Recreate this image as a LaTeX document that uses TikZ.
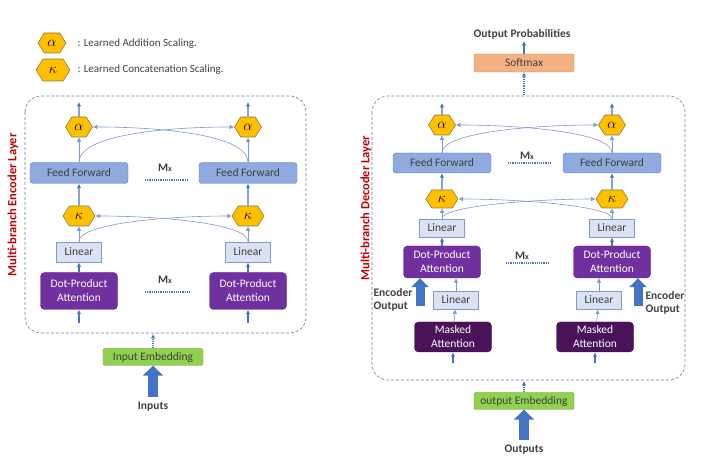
\documentclass[tikz,border=0pt]{standalone}
\usepackage{fontspec}
\setmainfont{Carlito}
\usetikzlibrary{shapes.symbols,arrows.meta}
\definecolor{arrblue}{HTML}{4472C4}
\definecolor{thinblue}{HTML}{7F98D0}
\definecolor{boxline}{HTML}{6A7BAE}
\definecolor{ffFill}{HTML}{8FAADC}
\definecolor{ffDraw}{HTML}{5F80BE}
\definecolor{linFill}{HTML}{DAE3F3}
\definecolor{linDraw}{HTML}{7F9ACB}
\definecolor{dpaFill}{HTML}{7030A0}
\definecolor{dpaDraw}{HTML}{5A2585}
\definecolor{maskFill}{HTML}{4A1259}
\definecolor{hexFill}{HTML}{FFC000}
\definecolor{hexDraw}{HTML}{8C7A3A}
\definecolor{smFill}{HTML}{F4B183}
\definecolor{smDraw}{HTML}{C9845A}
\definecolor{embFill}{HTML}{92D050}
\definecolor{embDraw}{HTML}{6AA33A}
\definecolor{labred}{HTML}{C00000}
\definecolor{txtgray}{HTML}{404040}

\begin{document}
\begin{tikzpicture}[x=1pt,y=-1pt,
  every node/.style={font=\fontsize{11.5}{13}\selectfont},
  arr/.style={draw=arrblue,line width=1.1pt,-{Latex[length=4.5pt,width=4.5pt]}},
  cross/.style={draw=thinblue,line width=0.6pt,-{Latex[length=4.5pt,width=4.5pt]}},
  bigarr/.style={draw=arrblue,line width=10pt,-{Triangle[length=10pt,width=20pt]}},
  mxdots/.style={draw=arrblue,line width=1.2pt,densely dotted},
  layerbox/.style={draw=boxline,densely dashed,line width=0.6pt,rounded corners=16pt},
  hexa/.style={shape=signal,signal to=west and east,signal pointer angle=115,
    fill=hexFill,draw=hexDraw,line width=0.6pt,minimum width=27pt,minimum height=20pt,
    inner sep=0pt,font=\fontsize{14}{15}\selectfont},
  hexk/.style={hexa,minimum width=32pt},
  ffbox/.style={fill=ffFill,draw=ffDraw,rounded corners=3pt,minimum width=98pt,
    minimum height=21pt,inner sep=1pt,text=txtgray},
  linbox/.style={fill=linFill,draw=linDraw,line width=0.8pt,minimum width=45pt,
    minimum height=20pt,inner sep=1pt,text=txtgray},
  dpabox/.style={fill=dpaFill,draw=dpaDraw,rounded corners=4pt,minimum width=77pt,
    minimum height=37pt,inner sep=1pt,align=center,text=white,
    font=\fontsize{11.5}{14}\selectfont},
  maskbox/.style={dpabox,fill=maskFill,draw=maskFill!80!black,minimum height=30pt},
  smbox/.style={fill=smFill,draw=smDraw,rounded corners=2pt,minimum width=100pt,
    minimum height=18pt,inner sep=1pt,text=txtgray},
  embbox/.style={smbox,fill=embFill,draw=embDraw,minimum height=17pt},
  mx/.style={font=\fontsize{11.5}{13}\selectfont\bfseries,inner sep=1pt,text=txtgray},
  bold/.style={font=\fontsize{11.5}{13}\selectfont\bfseries,text=txtgray},
  redlab/.style={font=\fontsize{12.5}{14}\selectfont\bfseries,text=labred,rotate=90},
  legtxt/.style={font=\fontsize{11}{12}\selectfont,text=txtgray,anchor=west}]
  \pgfmathsetmacro{\eL}{79}
  \pgfmathsetmacro{\eR}{248}
  \pgfmathsetmacro{\dL}{442}
  \pgfmathsetmacro{\dR}{612}
  \useasboundingbox (0,0) rectangle (716,473);

  % legend
  \node[hexa,minimum width=28pt] (lgA) at (52,43) {$\alpha$};
  \node[hexk,minimum width=34pt,minimum height=22pt] (lgK) at (53,70) {$\kappa$};
  \node[legtxt] (lgAt) at (74,44) {: Learned Addition Scaling.};
  \node[legtxt] (lgKt) at (74,70) {: Learned Concatenation Scaling.};

  % encoder
  \draw[layerbox] (25,96) rectangle (306,333);
  \node[redlab] (encLab) at (13,205) {Multi-branch Encoder Layer};

  \node[hexa] (eAlL) at (\eL,127) {$\alpha$};
  \node[hexa] (eAlR) at (\eR,127) {$\alpha$};
  \node[ffbox] (eFFL) at (\eL,173) {Feed Forward};
  \node[ffbox] (eFFR) at (\eR,173) {Feed Forward};
  \node[hexk] (eKaL) at (\eL,216) {$\kappa$};
  \node[hexk] (eKaR) at (\eR,216) {$\kappa$};
  \node[linbox] (eLinL) at (\eL,252) {Linear};
  \node[linbox] (eLinR) at (\eR,252) {Linear};
  \node[dpabox] (eDPL) at (\eL,291) {Dot-Product\\Attention};
  \node[dpabox] (eDPR) at (\eR,291) {Dot-Product\\Attention};
  \coordinate (eTopL) at (\eL,102);
  \coordinate (eTopR) at (\eR,102);
  \coordinate (eInL) at (\eL,323);
  \coordinate (eInR) at (\eR,323);

  \draw[arr] (eInL) -- (eDPL);
  \draw[arr] (eInR) -- (eDPR);
  \draw[arr] (eDPL) -- (eLinL);
  \draw[arr] (eDPR) -- (eLinR);
  \draw[cross] (eLinL) -- (eKaL);
  \draw[cross] (eLinR) -- (eKaR);
  \draw[arr] (eKaL) -- (eFFL);
  \draw[arr] (eKaR) -- (eFFR);
  \draw[cross] (eFFL) -- (eAlL);
  \draw[cross] (eFFR) -- (eAlR);
  \draw[arr] (eAlL) -- (eTopL);
  \draw[arr] (eAlR) -- (eTopR);
  \draw[cross] (eFFL.north) .. controls (\eL,134) and (170,127) .. (eAlR.west);
  \draw[cross] (eFFR.north) .. controls (\eR,134) and (157,127) .. (eAlL.east);
  \draw[cross] (eLinL.north) .. controls (\eL,223) and (170,216) .. (eKaR.west);
  \draw[cross] (eLinR.north) .. controls (\eR,223) and (157,216) .. (eKaL.east);

  \node[mx] (eMxA) at (165,168) {M\raisebox{-0.5pt}{\fontsize{8}{9}\selectfont x}};
  \draw[mxdots] (145,180) -- (187,180);
  \node[mx] (eMxB) at (165,280) {M\raisebox{-0.5pt}{\fontsize{8}{9}\selectfont x}};
  \draw[mxdots] (145,292) -- (190,292);

  \node[embbox] (eEmb) at (153,357) {Input Embedding};
  \coordinate (eBot) at (153,334);
  \coordinate (eInp) at (153,397);
  \draw[arr,densely dotted] (eEmb) -- (eBot);
  \draw[bigarr] (eInp) -- (eEmb.south);
  \node[bold] (eInpT) at (153,407) {Inputs};

  % decoder
  \draw[layerbox] (372,96) rectangle (685,380);
  \node[redlab] (decLab) at (366,208) {Multi-branch Decoder Layer};

  \node[bold] (dOut) at (522,34) {Output Probabilities};
  \node[smbox] (dSm) at (524,63) {Softmax};
  \coordinate (dSmTop) at (524,41);
  \coordinate (dTopC) at (524,95);
  \draw[arr] (dSm) -- (dSmTop);
  \draw[arr,densely dotted] (dTopC) -- (dSm);

  \node[hexa] (dAlL) at (\dL,125) {$\alpha$};
  \node[hexa] (dAlR) at (\dR,125) {$\alpha$};
  \node[ffbox,minimum height=20pt] (dFFL) at (\dL,163) {Feed Forward};
  \node[ffbox,minimum height=20pt] (dFFR) at (\dR,163) {Feed Forward};
  \node[hexk,minimum height=18pt] (dKaL) at (\dL,199) {$\kappa$};
  \node[hexk,minimum height=18pt] (dKaR) at (\dR,199) {$\kappa$};
  \node[linbox,minimum height=18pt] (dLinL) at (\dL,228) {Linear};
  \node[linbox,minimum height=18pt] (dLinR) at (\dR,228) {Linear};
  \node[dpabox,minimum height=32pt] (dDPL) at (\dL,262) {Dot-Product\\Attention};
  \node[dpabox,minimum height=32pt] (dDPR) at (\dR,262) {Dot-Product\\Attention};
  \node[linbox,minimum height=18pt] (dLbL) at (456,300) {Linear};
  \node[linbox,minimum height=18pt] (dLbR) at (599,300) {Linear};
  \node[maskbox] (dMaL) at (453,337) {Masked\\Attention};
  \node[maskbox] (dMaR) at (595,337) {Masked\\Attention};
  \coordinate (dTopL) at (\dL,103);
  \coordinate (dTopR) at (\dR,103);
  \coordinate (dInL) at (453,363);
  \coordinate (dInR) at (595,363);

  \draw[arr] (dInL) -- (dMaL);
  \draw[arr] (dInR) -- (dMaR);
  \draw[cross] (dMaL) -- (dLbL);
  \draw[cross] (dMaR) -- (dLbR);
  \draw[cross] (dLbL) -- (dLbL |- dDPL.south);
  \draw[cross] (dLbR) -- (dLbR |- dDPR.south);
  \draw[arr] (dDPL) -- (dLinL);
  \draw[arr] (dDPR) -- (dLinR);
  \draw[cross] (dLinL) -- (dKaL);
  \draw[cross] (dLinR) -- (dKaR);
  \draw[arr] (dKaL) -- (dFFL);
  \draw[arr] (dKaR) -- (dFFR);
  \draw[cross] (dFFL) -- (dAlL);
  \draw[cross] (dFFR) -- (dAlR);
  \draw[arr] (dAlL) -- (dTopL);
  \draw[arr] (dAlR) -- (dTopR);
  \draw[cross] (dFFL.north) .. controls (\dL,132) and (535,125) .. (dAlR.west);
  \draw[cross] (dFFR.north) .. controls (\dR,132) and (519,125) .. (dAlL.east);
  \draw[cross] (dLinL.north) .. controls (\dL,206) and (535,199) .. (dKaR.west);
  \draw[cross] (dLinR.north) .. controls (\dR,206) and (519,199) .. (dKaL.east);

  % encoder output into the attention
  \coordinate (dEoL) at (420,306);
  \coordinate (dEoR) at (638,306);
  \draw[bigarr,line width=9pt,-{Triangle[length=9pt,width=17pt]}] (dEoL) -- (dEoL |- dDPL.south);
  \draw[bigarr,line width=9pt,-{Triangle[length=9pt,width=17pt]}] (dEoR) -- (dEoR |- dDPR.south);
  \node[bold,align=left] (dEoLT) at (393,300) {Encoder\\Output};
  \node[bold,align=left] (dEoRT) at (665,303) {Encoder\\Output};

  \node[mx] (dMxA) at (527,156) {M\raisebox{-0.5pt}{\fontsize{8}{9}\selectfont x}};
  \draw[mxdots] (508,163) -- (550,163);
  \node[mx] (dMxB) at (522,256) {M\raisebox{-0.5pt}{\fontsize{8}{9}\selectfont x}};
  \draw[mxdots] (506,263) -- (550,263);

  \node[embbox] (dEmb) at (524,401) {output Embedding};
  \coordinate (dBot) at (524,381);
  \coordinate (dOutp) at (524,440);
  \draw[arr,densely dotted] (dEmb) -- (dBot);
  \draw[bigarr] (dOutp) -- (dEmb.south);
  \node[bold] (dOutT) at (524,450) {Outputs};
\end{tikzpicture}
\end{document}
